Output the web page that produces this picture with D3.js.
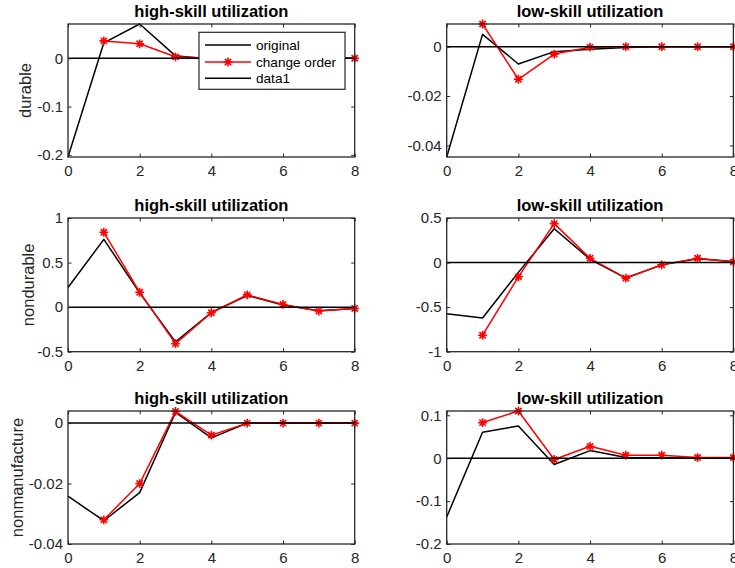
<!DOCTYPE html>
<html>
<head>
<meta charset="utf-8">
<script src="https://cdn.jsdelivr.net/npm/d3@7"></script>
<style>
  html, body { margin: 0; padding: 0; background: #fff; }
  svg { display: block; font-family: "Liberation Sans", Arial, Helvetica, sans-serif; }
</style>
</head>
<body>
<svg id="fig" width="735" height="568"></svg>
<script>
// Impulse responses of utilization by sector (horizon 0..8)
const horizon = [0, 1, 2, 3, 4, 5, 6, 7, 8];
const xTicks = [0, 2, 4, 6, 8];
const seriesNames = ["original", "change order", "data1"];

const sectors = ["durable", "nondurable", "nonmanufacture"];
const titles = ["high-skill utilization", "low-skill utilization"];

// durable
const durableHighOriginal = [-0.2045, 0.032, 0.071, 0.005, -0.002, 0, 0, 0, 0];
const durableHighChange   = [null, 0.036, 0.030, 0.003, 0, 0, 0, 0, 0];
const durableLowOriginal  = [-0.0447, 0.005, -0.007, -0.002, -0.001, -0.0003, 0, 0, 0];
const durableLowChange    = [null, 0.0092, -0.0132, -0.003, -0.0002, 0, 0, 0, 0];

// nondurable
const nondurHighOriginal = [0.22, 0.76, 0.16, -0.39, -0.06, 0.13, 0.025, -0.04, -0.015];
const nondurHighChange   = [null, 0.84, 0.167, -0.41, -0.063, 0.137, 0.03, -0.044, -0.015];
const nondurLowOriginal  = [-0.574, -0.622, -0.11, 0.38, 0.037, -0.174, -0.026, 0.044, 0.011];
const nondurLowChange    = [null, -0.815, -0.16, 0.437, 0.048, -0.174, -0.026, 0.048, 0.007];

// nonmanufacture
const nonmanHighOriginal = [-0.0242, -0.0323, -0.023, 0.0035, -0.0049, 0, 0, 0, 0];
const nonmanHighChange   = [null, -0.032, -0.020, 0.0039, -0.004, 0, 0, 0, 0];
const nonmanLowOriginal  = [-0.137, 0.0605, 0.075, -0.0146, 0.0177, 0.0015, 0.001, 0, 0];
const nonmanLowChange    = [null, 0.083, 0.11, -0.003, 0.0277, 0.007, 0.007, 0.0015, 0.0015];

// y limits and ticks per panel (row-major)
const yLimits = [
  [-0.2045, 0.071], [-0.0447, 0.0092],
  [-0.5, 1], [-1, 0.5],
  [-0.04, 0.004], [-0.2, 0.11]
];
const yTicks = [
  [-0.2, -0.1, 0], [-0.04, -0.02, 0],
  [-0.5, 0, 0.5, 1], [-1, -0.5, 0, 0.5],
  [-0.04, -0.02, 0], [-0.2, -0.1, 0, 0.1]
];

const panelData = [
  [durableHighOriginal, durableHighChange], [durableLowOriginal, durableLowChange],
  [nondurHighOriginal, nondurHighChange], [nondurLowOriginal, nondurLowChange],
  [nonmanHighOriginal, nonmanHighChange], [nonmanLowOriginal, nonmanLowChange]
];

// layout
const colLeft = [68, 446.7];
const axW = 286.7;
const rowTop = [24, 218, 411];
const rowBottom = [157, 351.7, 544];
const ylabelX = [25, 28, 17.5];

const ink = "#262626";
const svg = d3.select("#fig");
svg.append("rect").attr("width", 735).attr("height", 568).attr("fill", "#fff");

function asteriskPath(r) {
  const d = r * 0.7071;
  return `M${-r},0L${r},0M0,${-r}L0,${r}M${-d},${-d}L${d},${d}M${-d},${d}L${d},${-d}`;
}

panelData.forEach((pair, i) => {
  const row = Math.floor(i / 2), col = i % 2;
  const x0 = colLeft[col], x1 = x0 + axW;
  const y0 = rowTop[row], y1 = rowBottom[row];

  const x = d3.scaleLinear().domain([0, 8]).range([x0, x1]);
  const y = d3.scaleLinear().domain(yLimits[i]).range([y1, y0]);

  const g = svg.append("g");

  // series lines
  const line = d3.line()
    .defined(d => d[1] !== null)
    .x(d => x(d[0])).y(d => y(d[1]));

  const orig = horizon.map((h, k) => [h, pair[0][k]]);
  const chg = horizon.map((h, k) => [h, pair[1][k]]);
  const zero = horizon.map(h => [h, 0]);

  g.append("path").attr("d", line(orig))
    .attr("fill", "none").attr("stroke", "#000").attr("stroke-width", 1.5)
    .attr("stroke-linejoin", "round");
  g.append("path").attr("d", line(chg))
    .attr("fill", "none").attr("stroke", "#ff0000").attr("stroke-width", 1.5)
    .attr("stroke-linejoin", "round");
  g.selectAll(".mk").data(chg.filter(d => d[1] !== null)).enter()
    .append("path")
    .attr("transform", d => `translate(${x(d[0])},${y(d[1])})`)
    .attr("d", asteriskPath(4.4))
    .attr("fill", "none").attr("stroke", "#ff0000").attr("stroke-width", 1.6);
  g.append("path").attr("d", line(zero))
    .attr("fill", "none").attr("stroke", "#000").attr("stroke-width", 1.5);

  // axes (ticks pointing inward, mirrored on the opposite side)
  const tl = 3.5;
  const fmt = v => String(v);
  g.append("g").attr("transform", `translate(0,${y1})`)
    .call(d3.axisBottom(x).tickValues(xTicks).tickSizeInner(-tl).tickSizeOuter(0).tickPadding(8.5).tickFormat(fmt));
  g.append("g").attr("transform", `translate(0,${y0})`)
    .call(d3.axisTop(x).tickValues(xTicks).tickSizeInner(-tl).tickSizeOuter(0).tickFormat(""));
  g.append("g").attr("transform", `translate(${x0},0)`)
    .call(d3.axisLeft(y).tickValues(yTicks[i]).tickSizeInner(-tl).tickSizeOuter(0).tickPadding(5).tickFormat(fmt));
  g.append("g").attr("transform", `translate(${x1},0)`)
    .call(d3.axisRight(y).tickValues(yTicks[i]).tickSizeInner(-tl).tickSizeOuter(0).tickFormat(""));

  g.selectAll(".domain").remove();
  g.selectAll(".tick line").attr("stroke", ink).attr("stroke-width", 1);
  g.selectAll(".tick text").attr("fill", ink).style("font-size", "15px")
    .style("font-family", "'Liberation Sans', Arial, sans-serif");

  g.append("rect").attr("x", x0).attr("y", y0)
    .attr("width", x1 - x0).attr("height", y1 - y0)
    .attr("fill", "none").attr("stroke", ink).attr("stroke-width", 1.3);

  // title
  g.append("text").attr("x", (x0 + x1) / 2).attr("y", y0 - 7)
    .attr("text-anchor", "middle").attr("fill", "#000")
    .style("font-size", "16.5px").style("font-weight", "bold")
    .text(titles[col]);

  // row label
  if (col === 0) {
    const cy = (y0 + y1) / 2;
    g.append("text")
      .attr("transform", `translate(${ylabelX[row]},${cy}) rotate(-90)`)
      .attr("text-anchor", "middle").attr("dy", "0.35em")
      .attr("fill", ink).style("font-size", "16.5px")
      .text(sectors[row]);
  }

  // legend in the first panel
  if (i === 0) {
    const lg = g.append("g");
    lg.append("rect").attr("x", 199).attr("y", 32.3).attr("width", 146).attr("height", 57)
      .attr("fill", "#fff").attr("stroke", ink).attr("stroke-width", 1.2);
    const rowsY = [45, 62, 78.3];
    const colors = ["#000", "#ff0000", "#000"];
    seriesNames.forEach((name, k) => {
      lg.append("line").attr("x1", 205).attr("x2", 251)
        .attr("y1", rowsY[k]).attr("y2", rowsY[k])
        .attr("stroke", colors[k]).attr("stroke-width", 1.5);
      if (k === 1) {
        lg.append("path").attr("transform", `translate(228,${rowsY[k]})`)
          .attr("d", asteriskPath(4.4)).attr("fill", "none")
          .attr("stroke", "#ff0000").attr("stroke-width", 1.6);
      }
      lg.append("text").attr("x", 256).attr("y", rowsY[k]).attr("dy", "0.35em")
        .attr("fill", "#000").style("font-size", "13.6px").text(name);
    });
  }
});
</script>
</body>
</html>
